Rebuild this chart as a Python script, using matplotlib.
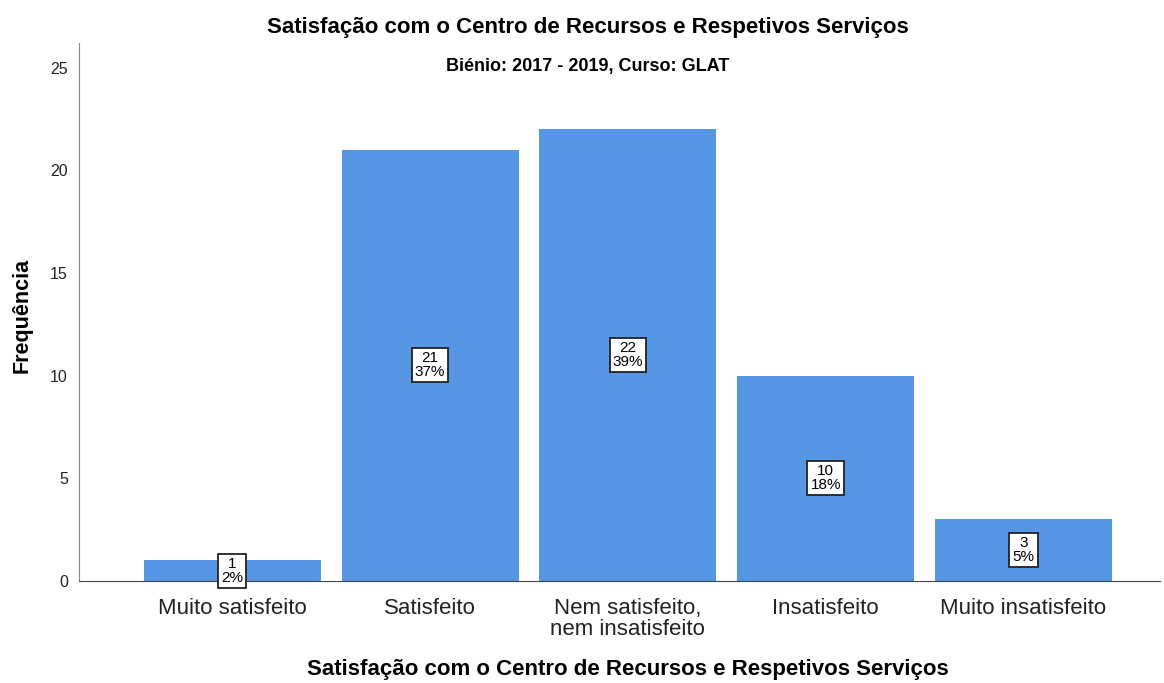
import matplotlib.pyplot as plt

categories = ["Muito satisfeito", "Satisfeito", "Nem satisfeito,\nnem insatisfeito",
              "Insatisfeito", "Muito insatisfeito"]
counts = [1, 21, 22, 10, 3]
percents = ["2%", "37%", "39%", "18%", "5%"]
y_ticks = [0, 5, 10, 15, 20, 25]

plt.rcParams['font.family'] = ['Liberation Sans', 'DejaVu Sans']

fig = plt.figure(figsize=(11.64, 6.83), dpi=100)
ax = fig.add_axes([79 / 1164, 1 - 581 / 683, (1160 - 79) / 1164, (581 - 43) / 683])

x = range(len(categories))
ax.bar(x, counts, width=0.895, color='#5596e5', edgecolor='none')

for xi, c, p in zip(x, counts, percents):
    ax.text(xi, c / 2, f"{c}\n{p}", ha='center', va='center', fontsize=11,
            linespacing=1.0,
            bbox=dict(boxstyle='square,pad=0.2', facecolor='white', edgecolor='#222222', linewidth=1.3))

ax.set_xlim(-0.775, 4.69)
ax.set_ylim(0, 26.2)
ax.set_xticks(list(x))
ax.set_xticklabels(categories, fontsize=16, color='#222222', linespacing=1.05)
ax.set_yticks(y_ticks)
ax.tick_params(axis='y', length=0, labelsize=11.5, pad=8, colors='#222222')
ax.tick_params(axis='x', length=0, pad=12)

for s in ['top', 'right']:
    ax.spines[s].set_visible(False)
ax.spines['left'].set_color('#888888')
ax.spines['bottom'].set_color('#444444')

ax.set_ylabel("Frequência", fontsize=15.5, fontweight='bold')
ax.yaxis.set_label_coords(-(79 - 33) / (1160 - 79), 0.494)
ax.set_xlabel("Satisfação com o Centro de Recursos e Respetivos Serviços",
              fontsize=16, fontweight='bold')
ax.xaxis.set_label_coords((628 - 79) / (1160 - 79), -(659 - 581) / (581 - 43))
fig.text(588 / 1164, 1 - 27 / 683, "Satisfação com o Centro de Recursos e Respetivos Serviços",
         ha='center', va='center', fontsize=16, fontweight='bold')
fig.text(588 / 1164, 1 - 66 / 683, "Biénio: 2017 - 2019, Curso: GLAT",
         ha='center', va='center', fontsize=13, fontweight='bold')

fig.savefig("out.png", dpi=100)
